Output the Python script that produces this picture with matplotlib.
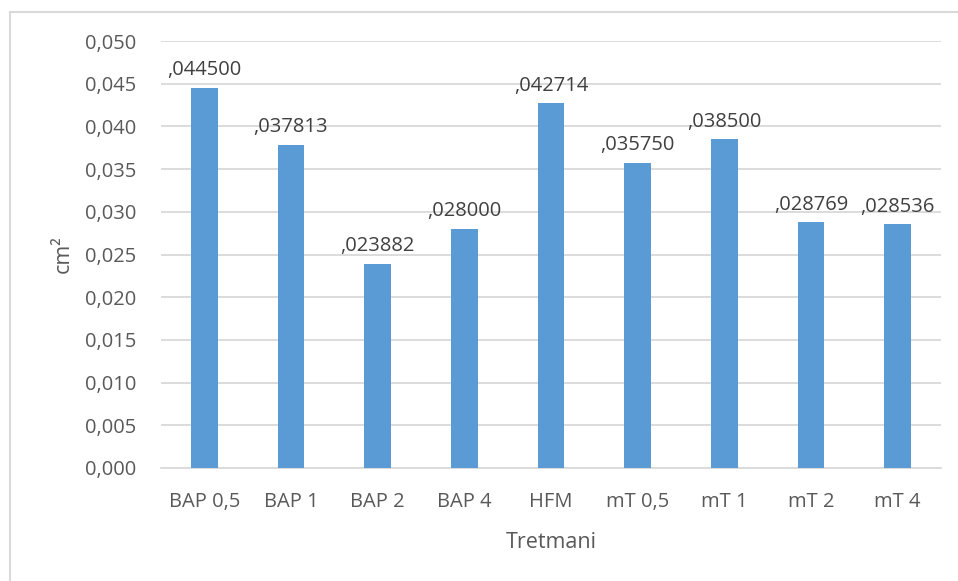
import numpy as np
import matplotlib.pyplot as plt
from matplotlib.patches import Rectangle

plt.rcParams['font.family'] = ['Open Sans', 'DejaVu Sans']

categories = ["BAP 0,5", "BAP 1", "BAP 2", "BAP 4", "HFM", "mT 0,5", "mT 1", "mT 2", "mT 4"]
values = [0.044500, 0.037813, 0.023882, 0.028000, 0.042714, 0.035750, 0.038500, 0.028769, 0.028536]
yticks = np.arange(0, 0.0501, 0.005)

text_col = "#595959"
grid_col = "#D9D9D9"
bar_col = "#5B9BD5"

fig = plt.figure(figsize=(9.58, 5.81), dpi=100)
# chart frame (left and top edges visible)
fig.patches.append(Rectangle((10 / 958, -0.1), 1.2, 1 - 12 / 581 + 0.1,
                             transform=fig.transFigure, fill=False,
                             edgecolor=grid_col, linewidth=1.5))

ax = fig.add_axes([161 / 958, 1 - 468 / 581, (941 - 161) / 958, (468 - 41) / 581])
x = np.arange(len(categories))
ax.bar(x, values, width=0.31, color=bar_col, zorder=3)

for xi, v in zip(x, values):
    ax.text(xi, v + 0.0009, ("%.6f" % v)[1:].replace(".", ","), ha="center", va="bottom",
            fontsize=14.5, color="#404040")

ax.set_xlim(-0.5, len(categories) - 0.5)
ax.set_ylim(0, 0.050)
ax.set_yticks(yticks)
ax.set_yticklabels([("%.3f" % t).replace(".", ",") for t in yticks])
ax.set_xticks(x)
ax.set_xticklabels(categories)
ax.yaxis.grid(True, color=grid_col, linewidth=1.3, zorder=0)
ax.set_axisbelow(True)
for s in ["top", "right", "left"]:
    ax.spines[s].set_visible(False)
ax.spines["bottom"].set_color(grid_col)
ax.spines["bottom"].set_linewidth(1.3)
ax.tick_params(axis="both", length=0, labelsize=14.5, colors=text_col)
ax.tick_params(axis="y", pad=18)
ax.tick_params(axis="x", pad=17)

ax.set_xlabel("Tretmani", fontsize=15.5, color=text_col, labelpad=15)
ax.set_ylabel("cm²", fontsize=15.5, color=text_col, labelpad=8)

fig.savefig("out.png", dpi=100)
